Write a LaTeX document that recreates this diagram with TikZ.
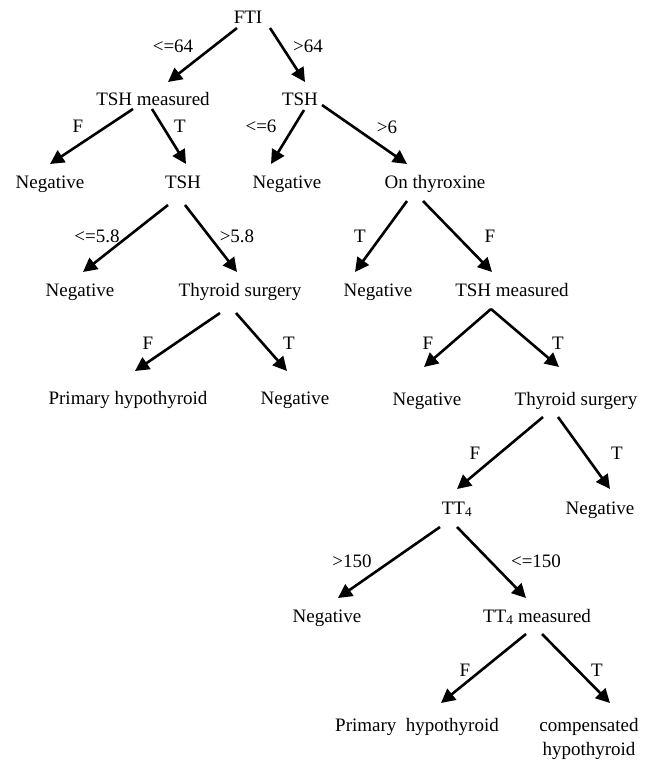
\documentclass[tikz,border=0pt]{standalone}
\usepackage{fontspec}
\setmainfont{Liberation Serif}
\usetikzlibrary{calc,arrows.meta}
\begin{document}
\begin{tikzpicture}[x=1pt,y=-1pt,
  txt/.style={anchor=base,inner sep=0pt,font=\fontsize{19}{24}\selectfont},
  lbl/.style={anchor=base,inner sep=0pt,font=\fontsize{19}{24}\selectfont},
  arr/.style={line width=2.6pt,-{Triangle[length=14pt,width=14pt]}}]
\useasboundingbox (0,0) rectangle (656,762);
% nodes
\node[txt] (fti)   at (248,24)  {FTI};
\node[txt] (tshm1) at (153,106) {TSH measured};
\node[txt] (tsh1)  at (300,106) {TSH};
\node[txt] (neg1)  at (50,188)  {Negative};
\node[txt] (tsh2)  at (183,188) {TSH};
\node[txt] (neg2)  at (287,188) {Negative};
\node[txt] (oth)   at (435,188) {On thyroxine};
\node[txt] (neg3)  at (80,296)  {Negative};
\node[txt] (ts1)   at (240,296) {Thyroid surgery};
\node[txt] (neg4)  at (378,296) {Negative};
\node[txt] (tshm2) at (512,296) {TSH measured};
\node[txt] (ph1)   at (128,404) {Primary hypothyroid};
\node[txt] (neg5)  at (295,404) {Negative};
\node[txt] (neg6)  at (427,405) {Negative};
\node[txt] (ts2)   at (576,405) {Thyroid surgery};
\node[txt] (tt4)   at (457,514) {TT\textsubscript{4}};
\node[txt] (neg7)  at (600,514) {Negative};
\node[txt] (neg8)  at (327,622) {Negative};
\node[txt] (tt4m)  at (537,622) {TT\textsubscript{4} measured};
\node[txt] (ph2)   at (417,731) {Primary\ \ hypothyroid};
\node[txt] (comp)  at (589,731) {compensated};
\node[txt] (comp2) at (589,755) {hypothyroid};
% labels
\node[lbl] (l1)  at (173,53)  {<=64};
\node[lbl] (l2)  at (308,53)  {>64};
\node[lbl] (l3)  at (78,133)  {F};
\node[lbl] (l4)  at (180,133) {T};
\node[lbl] (l5)  at (261,133) {<=6};
\node[lbl] (l6)  at (387,134) {>6};
\node[lbl] (l7)  at (97,242)  {<=5.8};
\node[lbl] (l8)  at (237,242) {>5.8};
\node[lbl] (l9)  at (360,242) {T};
\node[lbl] (l10) at (490,242) {F};
\node[lbl] (l11) at (148,349) {F};
\node[lbl] (l12) at (289,349) {T};
\node[lbl] (l13) at (428,349) {F};
\node[lbl] (l14) at (558,349) {T};
\node[lbl] (l15) at (475,459) {F};
\node[lbl] (l16) at (617,459) {T};
\node[lbl] (l17) at (352,567) {>150};
\node[lbl] (l18) at (536,567) {<=150};
\node[lbl] (l19) at (465,676) {F};
\node[lbl] (l20) at (597,676) {T};
% connectors
\draw[arr] ($(fti.base)+(-11,4)$) -- ($(tshm1.base)+(15,-24)$);
\draw[arr] ($(fti.base)+(22,4)$) -- ($(tsh1.base)+(5,-24)$);
\draw[arr] ($(tshm1.base)+(-20,3)$) -- ($(neg1.base)+(0,-24)$);
\draw[arr] ($(tshm1.base)+(-1,3)$) -- ($(tsh2.base)+(3,-24)$);
\draw[arr] ($(tsh1.base)+(4,4)$) -- ($(neg2.base)+(-16,-24)$);
\draw[arr] ($(tsh1.base)+(22,-1)$) -- ($(oth.base)+(-28,-24)$);
\draw[arr] ($(tsh2.base)+(-15,17)$) -- ($(neg3.base)+(3,-24)$);
\draw[arr] ($(tsh2.base)+(2,17)$) -- ($(ts1.base)+(-3,-24)$);
\draw[arr] ($(ts1.base)+(-20,17)$) -- ($(ph1.base)+(7,-33)$);
\draw[arr] ($(ts1.base)+(-4,17)$) -- ($(neg5.base)+(-8,-33)$);
\draw[arr] ($(oth.base)+(-28,13)$) -- ($(neg4.base)+(-23,-24)$);
\draw[arr] ($(oth.base)+(-12,13)$) -- ($(tshm2.base)+(-20,-24)$);
\draw[arr] ($(tshm2.base)+(-21,13)$) -- ($(neg6.base)+(-3,-38)$);
\draw[arr] ($(tshm2.base)+(-21,13)$) -- ($(ts2.base)+(-17,-38)$);
\draw[arr] ($(ts2.base)+(-33,12)$) -- ($(tt4.base)+(0,-25)$);
\draw[arr] ($(ts2.base)+(-18,12)$) -- ($(neg7.base)+(10,-25)$);
\draw[arr] ($(tt4.base)+(-17,13)$) -- ($(neg8.base)+(11,-24)$);
\draw[arr] ($(tt4.base)+(0,13)$) -- ($(tt4m.base)+(-11,-24)$);
\draw[arr] ($(tt4m.base)+(-11,12)$) -- ($(ph2.base)+(24,-28)$);
\draw[arr] ($(tt4m.base)+(5,12)$) -- ($(comp.base)+(21,-28)$);
\end{tikzpicture}
\end{document}
